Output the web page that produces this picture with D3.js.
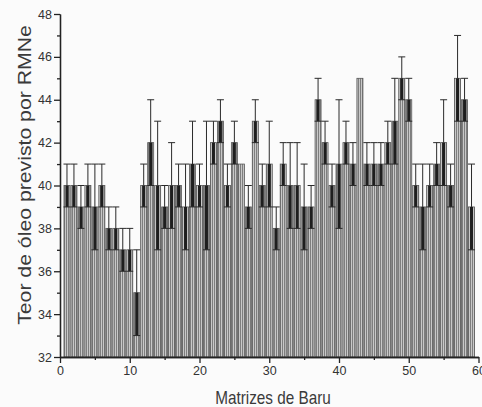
<!DOCTYPE html>
<html lang="pt">
	<head>
		<meta charset="utf-8">
		<title>Teor de óleo previsto por RMN</title>
		<style type="text/css">
			body {
				margin: 0;
				background-color: #fbfbfb;
				font-family: "Liberation Sans", Arial, sans-serif;
			}
			svg {
				display: block;
				background-color: #fbfbfb;
			}
			.axis path,
			.axis line {
				fill: none;
				stroke: #222;
				stroke-width: 1.3px;
			}
			.axis text {
				font-family: "Liberation Sans", Arial, sans-serif;
				font-size: 12.5px;
				fill: #333;
			}
			rect.bar {
				fill: url(#stripes);
				stroke: #555;
				stroke-width: 0.8px;
			}
			line.err, line.cap {
				stroke: #2a2a2a;
				stroke-width: 1px;
			}
			rect.errlow {
				fill: #1e1e1e;
			}
			text.label {
				font-size: 18px;
				fill: #3a3a3a;
			}
		</style>
	</head>
	<body>
		<script type="text/javascript" src="https://cdnjs.cloudflare.com/ajax/libs/d3/7.8.5/d3.min.js"></script>
		<script type="text/javascript">

			// matrizes 1..59: media e erro
			var matrizes = d3.range(1, 60);
			var medias = [40, 40, 39, 40, 39, 40, 38, 38, 37, 37,
						  35, 40, 42, 40, 39, 40, 40, 39, 41, 40,
						  40, 42, 43, 40, 42, 41, 39, 43, 40, 41,
						  38, 41, 40, 40, 39, 39, 44, 42, 40, 41,
						  42, 41, 45, 41, 41, 41, 42, 43, 45, 44,
						  40, 39, 40, 41, 42, 40, 45, 44, 39];
			var erros = [1, 1, 1, 1, 2, 1, 1, 1, 1, 1,
						 2, 1, 2, 3, 1, 2, 1, 2, 2, 1,
						 3, 1, 1, 1, 1, 0, 1, 1, 1, 2,
						 1, 1, 2, 2, 2, 1, 1, 1, 1, 3,
						 1, 1, 0, 1, 1, 1, 1, 2, 1, 1,
						 1, 2, 1, 1, 2, 1, 2, 1, 2];
			var xTicks = [0, 10, 20, 30, 40, 50, 60];
			var yTicks = [32, 34, 36, 38, 40, 42, 44, 46, 48];

			var fullwidth = 482;
			var fullheight = 407;

			var xScale = d3.scaleLinear().domain([0, 60]).range([60, 478.5]);
			var yScale = d3.scaleLinear().domain([32, 48]).range([357, 14]);

			var data = matrizes.map(function(m, i) {
				return { id: m, media: medias[i], erro: erros[i] };
			});

			var svg = d3.select("body")
						.append("svg")
						.attr("width", fullwidth)
						.attr("height", fullheight);

			var pattern = svg.append("defs")
				.append("pattern")
				.attr("id", "stripes")
				.attr("patternUnits", "userSpaceOnUse")
				.attr("width", 2)
				.attr("height", 4);
			pattern.append("rect")
				.attr("width", 2).attr("height", 4)
				.attr("fill", "#c8c8c8");
			pattern.append("rect")
				.attr("width", 1).attr("height", 4)
				.attr("fill", "#7e7e7e");

			var barW = 6;

			svg.selectAll("rect.bar")
				.data(data)
				.enter()
				.append("rect")
				.attr("class", "bar")
				.attr("x", function(d) { return xScale(d.id) - barW / 2; })
				.attr("y", function(d) { return yScale(d.media); })
				.attr("width", barW)
				.attr("height", function(d) { return yScale(32) - yScale(d.media); });

			var comErro = data.filter(function(d) { return d.erro > 0; });

			// metade de baixo da barra de erro (escura, dentro da barra)
			svg.selectAll("rect.errlow")
				.data(comErro)
				.enter()
				.append("rect")
				.attr("class", "errlow")
				.attr("x", function(d) { return xScale(d.id) - 1.5; })
				.attr("y", function(d) { return yScale(d.media); })
				.attr("width", 3)
				.attr("height", function(d) { return yScale(d.media - d.erro) - yScale(d.media); });

			svg.selectAll("line.err")
				.data(comErro)
				.enter()
				.append("line")
				.attr("class", "err")
				.attr("x1", function(d) { return xScale(d.id); })
				.attr("x2", function(d) { return xScale(d.id); })
				.attr("y1", function(d) { return yScale(d.media); })
				.attr("y2", function(d) { return yScale(d.media + d.erro); });

			svg.selectAll("line.cap.top")
				.data(comErro)
				.enter()
				.append("line")
				.attr("class", "cap top")
				.attr("x1", function(d) { return xScale(d.id) - 3.5; })
				.attr("x2", function(d) { return xScale(d.id) + 3.5; })
				.attr("y1", function(d) { return yScale(d.media + d.erro); })
				.attr("y2", function(d) { return yScale(d.media + d.erro); });

			svg.selectAll("line.cap.bottom")
				.data(comErro)
				.enter()
				.append("line")
				.attr("class", "cap bottom")
				.attr("x1", function(d) { return xScale(d.id) - 3.5; })
				.attr("x2", function(d) { return xScale(d.id) + 3.5; })
				.attr("y1", function(d) { return yScale(d.media - d.erro); })
				.attr("y2", function(d) { return yScale(d.media - d.erro); });

			// eixos
			var xAxis = d3.axisBottom(xScale)
				.tickValues(xTicks)
				.tickSize(6)
				.tickSizeOuter(0)
				.tickPadding(3);
			var xMinor = d3.axisBottom(xScale)
				.tickValues(d3.range(5, 60, 10))
				.tickSize(3)
				.tickSizeOuter(0)
				.tickFormat("");

			var yAxis = d3.axisLeft(yScale)
				.tickValues(yTicks)
				.tickSize(6)
				.tickSizeOuter(0)
				.tickPadding(2);
			var yMinor = d3.axisLeft(yScale)
				.tickValues(d3.range(33, 48, 2))
				.tickSize(3)
				.tickSizeOuter(0)
				.tickFormat("");

			svg.append("g")
				.attr("class", "x axis")
				.attr("transform", "translate(0," + yScale(32) + ")")
				.call(xAxis);
			svg.append("g")
				.attr("class", "x axis minor")
				.attr("transform", "translate(0," + yScale(32) + ")")
				.call(xMinor);

			svg.append("g")
				.attr("class", "y axis")
				.attr("transform", "translate(" + xScale(0) + ",0)")
				.call(yAxis);
			svg.append("g")
				.attr("class", "y axis minor")
				.attr("transform", "translate(" + xScale(0) + ",0)")
				.call(yMinor);

			// o original foi escaneado esticado na vertical
			svg.append("text")
				.attr("class", "label")
				.attr("transform", "translate(273,404) scale(0.85,1)")
				.attr("text-anchor", "middle")
				.text("Matrizes de Baru");

			svg.append("text")
				.attr("class", "label")
				.attr("transform", "translate(31,175) rotate(-90) scale(1.18,1)")
				.attr("text-anchor", "middle")
				.text("Teor de óleo previsto por RMNe");

		</script>
	</body>
</html>
